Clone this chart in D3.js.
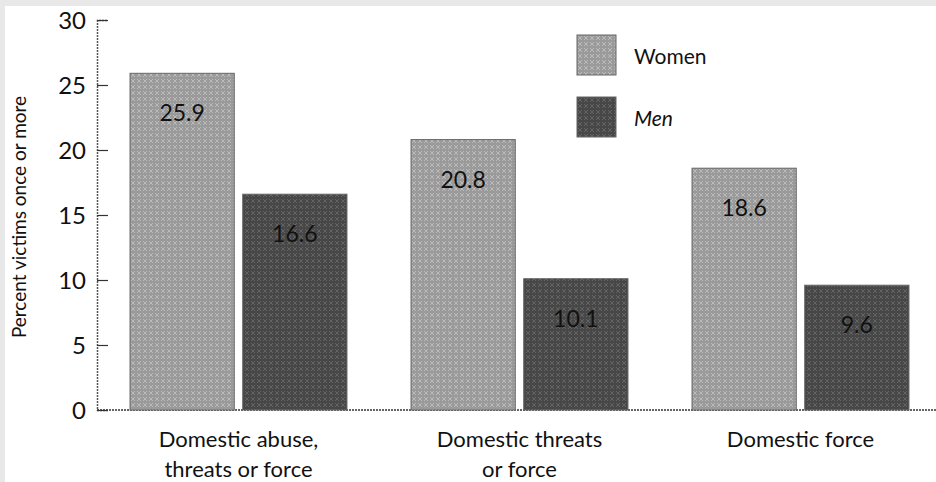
<!DOCTYPE html>
<html>
<head>
<meta charset="utf-8">
<script src="https://cdn.jsdelivr.net/npm/d3@7"></script>
<style>
  body { margin: 0; background: #e8e8e8; }
  svg { display: block; }
  text { font-family: Lato, "DejaVu Sans", sans-serif; fill: #111; }
</style>
</head>
<body>
<script>
// categories, series and tick labels
const categories = [["Domestic abuse,", "threats or force"], ["Domestic threats", "or force"], ["Domestic force"]];
const seriesNames = ["Women", "Men"];
const women = [25.9, 20.8, 18.6];
const men = [16.6, 10.1, 9.6];
const yTicks = [0, 5, 10, 15, 20, 25, 30];

const W = 936, H = 482;
const svg = d3.select("body").append("svg").attr("width", W).attr("height", H);

// white panel with grey frame at top/left
svg.append("rect").attr("x", 0).attr("y", 0).attr("width", W).attr("height", H).attr("fill", "#e8e8e8");
svg.append("rect").attr("x", 5).attr("y", 6).attr("width", W - 5).attr("height", H - 6).attr("fill", "#fff");

// dotted textures
const defs = svg.append("defs");
const makePattern = (id, base, dot) => {
  let p = defs.append("pattern").attr("id", id).attr("width", 6).attr("height", 6)
    .attr("patternUnits", "userSpaceOnUse");
  p.append("rect").attr("width", 6).attr("height", 6).attr("fill", base);
  p.append("path").attr("d", "M1,1 L5,5 M5,1 L1,5").attr("stroke", dot).attr("stroke-width", 0.8);
};
makePattern("pw", "#9a9a9a", "#c4c4c4");
makePattern("pm", "#474747", "#6c6c6c");
const fills = { Women: "url(#pw)", Men: "url(#pm)" };

const y = d3.scaleLinear().domain([0, 30]).range([410, 20]);
const x0 = d3.scaleBand().domain(d3.range(categories.length)).range([98, 941])
  .paddingInner(0.228).paddingOuter(0.114);
const x1 = d3.scaleBand().domain(seriesNames).range([0, x0.bandwidth()]).paddingInner(0.075);

// y axis
const yAxis = svg.append("g").attr("transform", "translate(97,0)")
  .call(d3.axisRight(y).tickValues(yTicks).tickSize(11).tickFormat(""));
yAxis.select(".domain").attr("stroke", "#555").attr("stroke-width", 1.5).attr("stroke-dasharray", "2,1");
yAxis.selectAll(".tick line").attr("stroke", "#333").attr("stroke-width", 1.2);
svg.append("g").selectAll("text").data(yTicks).join("text")
  .attr("x", 86).attr("y", d => y(d)).attr("dy", "0.36em").attr("text-anchor", "end")
  .style("font-size", "24px").text(d => d);

// baseline
svg.append("line").attr("x1", 97).attr("x2", W).attr("y1", y(0)).attr("y2", y(0))
  .attr("stroke", "#333").attr("stroke-width", 1.6).attr("stroke-dasharray", "2,1");

// y title
svg.append("text").attr("transform", "translate(26,217) rotate(-90)").attr("text-anchor", "middle")
  .style("font-size", "19px").text("Percent victims once or more");

// bars
const rows = categories.map((c, i) => ({ i, vals: [{ k: "Women", v: women[i] }, { k: "Men", v: men[i] }] }));
const groups = svg.append("g").selectAll("g").data(rows).join("g")
  .attr("transform", d => `translate(${x0(d.i)},0)`);
groups.selectAll("rect").data(d => d.vals).join("rect")
  .attr("x", d => x1(d.k)).attr("y", d => y(d.v))
  .attr("width", x1.bandwidth()).attr("height", d => y(0) - y(d.v))
  .attr("fill", d => fills[d.k]).attr("stroke", "#666").attr("stroke-width", 1);
groups.selectAll("text.val").data(d => d.vals).join("text").attr("class", "val")
  .attr("x", d => x1(d.k) + x1.bandwidth() / 2).attr("y", d => y(d.v) + 40)
  .attr("dy", "0.35em").attr("text-anchor", "middle").style("font-size", "23px")
  .text(d => d.v.toFixed(1));

// category labels
const labels = svg.append("g").selectAll("text").data(rows).join("text")
  .attr("x", d => x0(d.i) + x0.bandwidth() / 2).attr("text-anchor", "middle")
  .style("font-size", "22px");
labels.selectAll("tspan").data(d => categories[d.i]).join("tspan")
  .attr("x", function () { return d3.select(this.parentNode).attr("x"); })
  .attr("y", (d, j) => 447 + j * 30).text(d => d);

// legend
const legend = svg.append("g").selectAll("g").data(seriesNames).join("g")
  .attr("transform", (d, i) => `translate(577,${35 + i * 62})`);
legend.append("rect").attr("width", 39).attr("height", 40)
  .attr("fill", d => fills[d]).attr("stroke", "#666");
legend.append("text").attr("x", 57).attr("y", 22).attr("dy", "0.35em")
  .style("font-size", "21px").style("font-style", d => d === "Men" ? "italic" : "normal").text(d => d);
</script>
</body>
</html>
